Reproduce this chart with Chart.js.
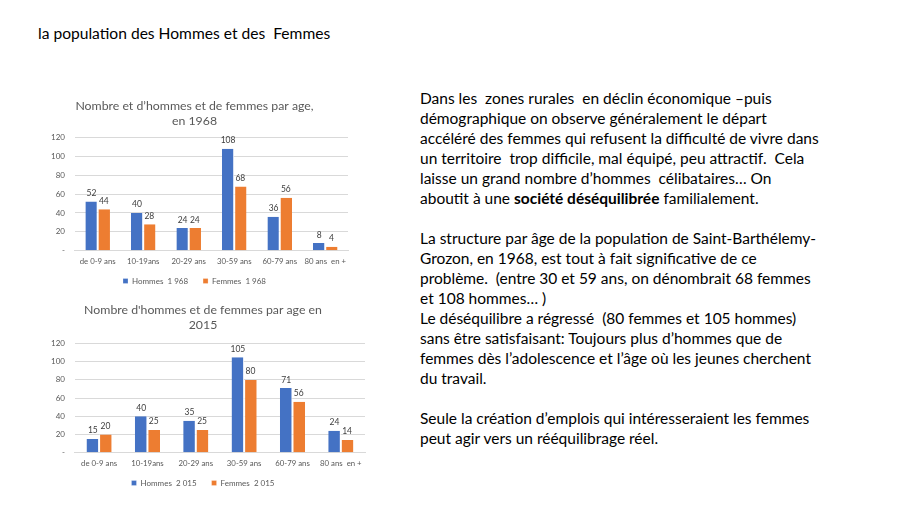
<!DOCTYPE html>
<html><head><meta charset="utf-8">
<script src="https://cdn.jsdelivr.net/npm/chart.js@4/dist/chart.umd.min.js"></script>
<style>
html,body{margin:0;padding:0;background:#fff;width:898px;height:505px;overflow:hidden;position:relative;font-family:Lato,"Open Sans",sans-serif}
#title{position:absolute;left:38px;top:24px;font-size:15.6px;color:#000}
#text{position:absolute;left:420px;top:88px;font-size:15.5px;line-height:20px;color:#000;white-space:nowrap}
canvas{position:absolute}
#c1{left:40px;top:95px}
#c2{left:40px;top:298px}
</style></head><body>
<div id="title">la population des Hommes et des&nbsp; Femmes</div>
<div id="text">Dans les&nbsp; zones rurales&nbsp; en déclin économique –puis<br>démographique on observe généralement le départ<br>accéléré des femmes qui refusent la difficulté de vivre dans<br>un territoire&nbsp; trop difficile, mal équipé, peu attractif.&nbsp; Cela<br>laisse un grand nombre d’hommes&nbsp; célibataires… On<br>aboutit à une <b>société déséquilibrée</b> familialement.<br><br>La structure par âge de la population de Saint-Barthélemy-<br>Grozon, en 1968, est tout à fait significative de ce<br>problème.&nbsp; (entre 30 et 59 ans, on dénombrait 68 femmes<br>et 108 hommes… )<br>Le déséquilibre a régressé&nbsp; (80 femmes et 105 hommes)<br>sans être satisfaisant: Toujours plus d’hommes que de<br>femmes dès l’adolescence et l’âge où les jeunes cherchent<br>du travail.<br><br>Seule la création d’emplois qui intéresseraient les femmes<br>peut agir vers un rééquilibrage réel.</div>
<canvas id="c1" width="320" height="200"></canvas>
<canvas id="c2" width="335" height="199"></canvas>
<script>
const categories = ["de 0-9 ans","10-19ans","20-29 ans","30-59 ans","60-79 ans","80 ans  en +"];
const hommes1968 = [52,40,24,108,36,8];
const femmes1968 = [44,28,24,68,56,4];
const hommes2015 = [15,40,35,105,71,24];
const femmes2015 = [20,25,25,80,56,14];
const yTicks = [0,20,40,60,80,100,120];

const BLUE = "#4472C4", ORANGE = "#ED7D31", GRAY = "#595959";
const FONT = "Lato, 'Open Sans', sans-serif";

const valueLabels = {
  id: "valueLabels",
  afterDatasetsDraw(chart) {
    const ctx = chart.ctx;
    ctx.save();
    ctx.font = "8.5px " + FONT;
    ctx.fillStyle = "#404040";
    ctx.textAlign = "center";
    ctx.textBaseline = "bottom";
    chart.data.datasets.forEach((ds, i) => {
      chart.getDatasetMeta(i).data.forEach((el, j) => {
        ctx.fillText(String(ds.data[j]), el.x, el.y - 4);
      });
    });
    ctx.restore();
  }
};

function makeChart(id, titleLines, hData, fData, hLabel, fLabel, catPct, pad, titlePad) {
  return new Chart(document.getElementById(id), {
    type: "bar",
    data: {
      labels: categories,
      datasets: [
        {label: hLabel, data: hData, backgroundColor: BLUE, borderColor: "#fff", borderWidth: {left:0,right:1,top:0,bottom:0}, barPercentage: 1, categoryPercentage: catPct},
        {label: fLabel, data: fData, backgroundColor: ORANGE, borderColor: "#fff", borderWidth: {left:1,right:0,top:0,bottom:0}, barPercentage: 1, categoryPercentage: catPct}
      ]
    },
    options: {
      responsive: false, animation: false, devicePixelRatio: 1,
      layout: {padding: pad},
      plugins: {
        title: {display: true, text: titleLines, color: GRAY, font: {family: FONT, size: 12.3, weight: "normal"}, padding: titlePad, lineHeight: 1.38},
        legend: {position: "bottom", labels: {boxWidth: 5, boxHeight: 5, color: GRAY, font: {family: FONT, size: 8}, padding: 5}},
        tooltip: {enabled: false}
      },
      scales: {
        x: {grid: {display: false, drawTicks: false}, border: {display: true, color: "#d9d9d9"},
            ticks: {color: GRAY, font: {family: FONT, size: 7.8}, maxRotation: 0, autoSkip: false, padding: 6}},
        y: {min: 0, max: 120, afterBuildTicks: (ax) => { ax.ticks = yTicks.map(v => ({value: v})); },
            grid: {color: "#d9d9d9", drawTicks: false}, border: {display: false},
            ticks: {color: GRAY, font: {family: FONT, size: 8}, padding: 10, callback: v => v === 0 ? "-" : v}}
      }
    },
    plugins: [valueLabels]
  });
}

makeChart("c1", ["Nombre et d’hommes et de femmes par age,", "en 1968"], hommes1968, femmes1968, "Hommes  1 968\u2003\u2002", "Femmes  1 968", 0.54, {left: 1, right: 12, top: 4, bottom: 0}, {top: 0, bottom: 9});
makeChart("c2", ["Nombre d'hommes et de femmes par age en", "2015"], hommes2015, femmes2015, "Hommes  2 015\u2003\u2002", "Femmes  2 015", 0.52, {left: 1, right: 10, top: 5, bottom: 0}, {top: 0, bottom: 11});
</script>
</body></html>
